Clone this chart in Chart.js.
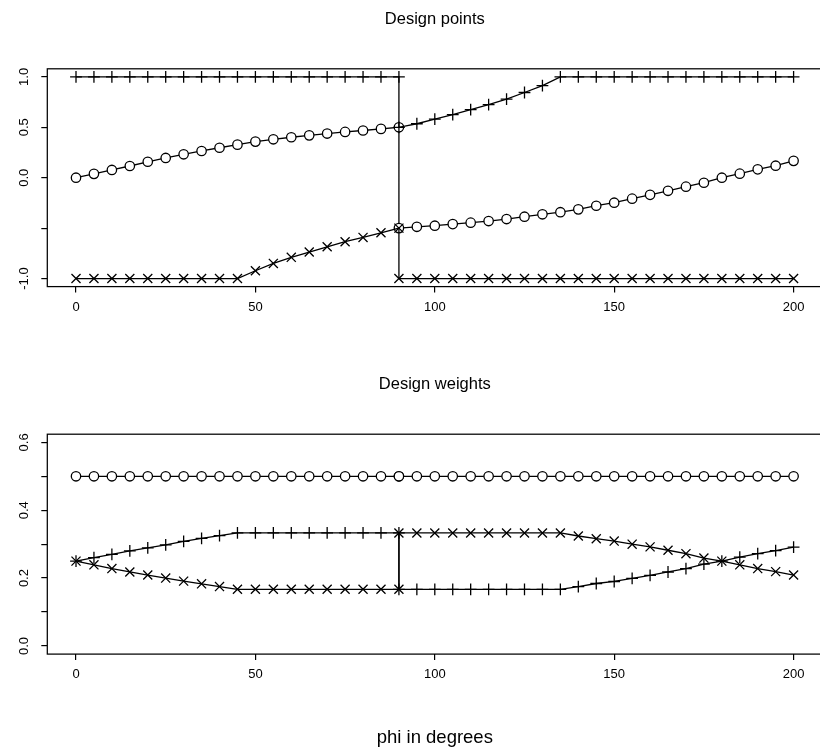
<!DOCTYPE html>
<html>
<head>
<meta charset="utf-8">
<script src="https://cdn.jsdelivr.net/npm/chart.js@4.4.1/dist/chart.umd.min.js"></script>
<style>
  html, body { margin: 0; padding: 0; background: #fff; overflow: hidden; width: 820px; height: 754px; }
  #wrap { position: relative; width: 820px; height: 754px; overflow: hidden; }
  canvas { position: absolute; left: 0; }
  #points { top: 0; }
  #weights { top: 365px; }
</style>
</head>
<body>
<div id="wrap">
  <canvas id="points" width="830" height="365"></canvas>
  <canvas id="weights" width="830" height="389"></canvas>
</div>
<script>
// Angle grid (degrees); 90 appears twice because the design switches branch there.
const phi = [0, 5, 10, 15, 20, 25, 30, 35, 40, 45, 50, 55, 60, 65, 70, 75, 80, 85, 90,
             90, 95, 100, 105, 110, 115, 120, 125, 130, 135, 140, 145, 150, 155, 160, 165,
             170, 175, 180, 185, 190, 195, 200];

// Design points
const pointsCircle = [0, 0.038, 0.077, 0.116, 0.158, 0.196, 0.232, 0.265, 0.297, 0.328, 0.358,
                      0.381, 0.401, 0.42, 0.438, 0.454, 0.468, 0.484, 0.5,
                      -0.5, -0.487, -0.476, -0.46, -0.446, -0.43, -0.41, -0.387, -0.363, -0.342,
                      -0.314, -0.278, -0.248, -0.208, -0.17, -0.13, -0.089, -0.05, 0, 0.04,
                      0.083, 0.119, 0.167];
const pointsPlus = [1, 1, 1, 1, 1, 1, 1, 1, 1, 1, 1, 1, 1, 1, 1, 1, 1, 1, 1,
                    0.5, 0.535, 0.58, 0.625, 0.675, 0.725, 0.78, 0.845, 0.913, 1, 1, 1, 1, 1,
                    1, 1, 1, 1, 1, 1, 1, 1, 1];
const pointsCross = [-1, -1, -1, -1, -1, -1, -1, -1, -1, -1, -0.923, -0.85, -0.79, -0.737,
                     -0.685, -0.635, -0.592, -0.546, -0.5,
                     -1, -1, -1, -1, -1, -1, -1, -1, -1, -1, -1, -1, -1, -1, -1, -1, -1, -1,
                     -1, -1, -1, -1, -1];

// Design weights
const weightsCircle = [0.5, 0.5, 0.5, 0.5, 0.5, 0.5, 0.5, 0.5, 0.5, 0.5, 0.5, 0.5, 0.5, 0.5,
                       0.5, 0.5, 0.5, 0.5, 0.5,
                       0.5, 0.5, 0.5, 0.5, 0.5, 0.5, 0.5, 0.5, 0.5, 0.5, 0.5, 0.5, 0.5, 0.5,
                       0.5, 0.5, 0.5, 0.5, 0.5, 0.5, 0.5, 0.5, 0.5];
const weightsPlus = [0.25, 0.26, 0.27, 0.28, 0.289, 0.298, 0.308, 0.317, 0.325, 0.333, 0.333,
                     0.333, 0.333, 0.333, 0.333, 0.333, 0.333, 0.333, 0.333,
                     0.167, 0.167, 0.167, 0.167, 0.167, 0.167, 0.167, 0.167, 0.167, 0.167,
                     0.175, 0.184, 0.19, 0.199, 0.208, 0.218, 0.228, 0.241, 0.25, 0.262,
                     0.272, 0.281, 0.291];
const weightsCross = [0.25, 0.239, 0.228, 0.218, 0.209, 0.2, 0.191, 0.183, 0.175, 0.167, 0.167,
                      0.167, 0.167, 0.167, 0.167, 0.167, 0.167, 0.167, 0.167,
                      0.333, 0.333, 0.333, 0.333, 0.333, 0.333, 0.333, 0.333, 0.333, 0.333,
                      0.324, 0.316, 0.309, 0.3, 0.292, 0.282, 0.272, 0.259, 0.25, 0.239,
                      0.228, 0.219, 0.209];

// Axis ticks and their labels (some ticks are left unlabelled)
const xTicks = [0, 50, 100, 150, 200];
const xTickLabels = ['0', '50', '100', '150', '200'];
const yTicksPoints = [-1, -0.5, 0, 0.5, 1];
const yLabelsPoints = ['-1.0', '', '0.0', '0.5', '1.0'];
const yTicksWeights = [0, 0.1, 0.2, 0.3, 0.4, 0.5, 0.6];
const yLabelsWeights = ['0.0', '', '0.2', '', '0.4', '', '0.6'];

const FONT = '"Liberation Sans", Arial, Helvetica, sans-serif';
const PLOT_LEFT = 47.3;
const PLOT_RIGHT = 823;   // the frame runs just past the right edge of the page

// Box around the plot region, rotated y labels, panel title and x label
const framePlugin = {
  id: 'frame',
  afterDraw(chart, args, opts) {
    const { ctx, chartArea: a, scales } = chart;
    ctx.save();
    ctx.strokeStyle = '#000';
    ctx.lineWidth = 1.25;
    ctx.strokeRect(a.left, a.top, a.right - a.left, a.bottom - a.top);

    ctx.fillStyle = '#000';
    ctx.font = '13px ' + FONT;
    ctx.textAlign = 'center';
    ctx.textBaseline = 'alphabetic';
    opts.yTicks.forEach((v, i) => {
      const label = opts.yLabels[i];
      if (!label) return;
      ctx.save();
      ctx.translate(opts.yLabelX, scales.y.getPixelForValue(v));
      ctx.rotate(-Math.PI / 2);
      ctx.fillText(label, 0, 0);
      ctx.restore();
    });

    const cx = (a.left + a.right) / 2;
    ctx.textBaseline = 'middle';
    ctx.font = '16.5px ' + FONT;
    ctx.fillText(opts.title, cx, opts.titleY);
    if (opts.xLabel) {
      ctx.font = '18.5px ' + FONT;
      ctx.fillText(opts.xLabel, cx, opts.xLabelY);
    }
    ctx.restore();
  }
};

function series(values, style, radius, order) {
  return {
    data: phi.map((p, i) => ({ x: p, y: values[i] })),
    borderColor: '#000',
    borderWidth: 1.3,
    pointStyle: style,
    pointRadius: radius,
    pointHoverRadius: radius,
    pointBorderColor: '#000',
    pointBorderWidth: 1.3,
    pointBackgroundColor: '#fff',
    tension: 0,
    fill: false,
    order: order
  };
}

function noPad(s) {
  s.paddingLeft = 0; s.paddingRight = 0; s.paddingTop = 0; s.paddingBottom = 0;
}

function panel(id, cfg) {
  const yTicks = cfg.yTicks;
  const chart = new Chart(document.getElementById(id), {
    type: 'line',
    data: {
      datasets: [
        series(cfg.circle, 'circle', 4.7, 3),
        series(cfg.plus, 'cross', 5.9, 2),
        series(cfg.cross, 'crossRot', 6.4, 1)
      ]
    },
    options: {
      responsive: false,
      animation: false,
      devicePixelRatio: 1,
      events: [],
      layout: { padding: { left: 0, right: 1, top: cfg.areaTop, bottom: cfg.bottomPad } },
      plugins: {
        legend: { display: false },
        tooltip: { enabled: false },
        title: { display: false },
        frame: {
          yTicks: yTicks, yLabels: cfg.yLabels, yLabelX: 27.5,
          title: cfg.title, titleY: 19.5,
          xLabel: cfg.xLabel, xLabelY: cfg.xLabelY
        }
      },
      scales: {
        x: {
          type: 'linear',
          min: -8, max: 208,
          afterBuildTicks: s => { s.ticks = xTicks.map(v => ({ value: v })); },
          afterFit: s => { s.height = 40; noPad(s); },
          border: { display: false },
          grid: { drawOnChartArea: false, drawTicks: true, tickLength: 6, color: '#000', lineWidth: 1.2 },
          ticks: {
            color: '#000', font: { family: FONT, size: 13 }, padding: 6.8,
            maxRotation: 0, minRotation: 0, autoSkip: false,
            callback: (v) => xTickLabels[xTicks.indexOf(v)]
          }
        },
        y: {
          type: 'linear',
          min: cfg.yMin, max: cfg.yMax,
          afterBuildTicks: s => { s.ticks = yTicks.map(v => ({ value: v })); },
          afterFit: s => { s.width = PLOT_LEFT; noPad(s); },
          border: { display: false },
          grid: { drawOnChartArea: false, drawTicks: true, tickLength: 6, color: '#000', lineWidth: 1.2 },
          ticks: { display: false }
        }
      }
    },
    plugins: [framePlugin]
  });
  // widen or narrow the canvas so the plot region ends where intended
  const d = PLOT_RIGHT - chart.chartArea.right;
  if (Math.abs(d) > 0.5) chart.resize(Math.round(chart.width + d), chart.height);
  return chart;
}

panel('points', {
  circle: pointsCircle, plus: pointsPlus, cross: pointsCross,
  yMin: -1.08, yMax: 1.08, yTicks: yTicksPoints, yLabels: yLabelsPoints,
  areaTop: 68.8, bottomPad: 365 - 286.6 - 40,
  title: 'Design points'
});

panel('weights', {
  circle: weightsCircle, plus: weightsPlus, cross: weightsCross,
  yMin: -0.024, yMax: 0.624, yTicks: yTicksWeights, yLabels: yLabelsWeights,
  areaTop: 69.2, bottomPad: 389 - 289.1 - 40,
  title: 'Design weights', xLabel: 'phi in degrees', xLabelY: 373
});
</script>
</body>
</html>
